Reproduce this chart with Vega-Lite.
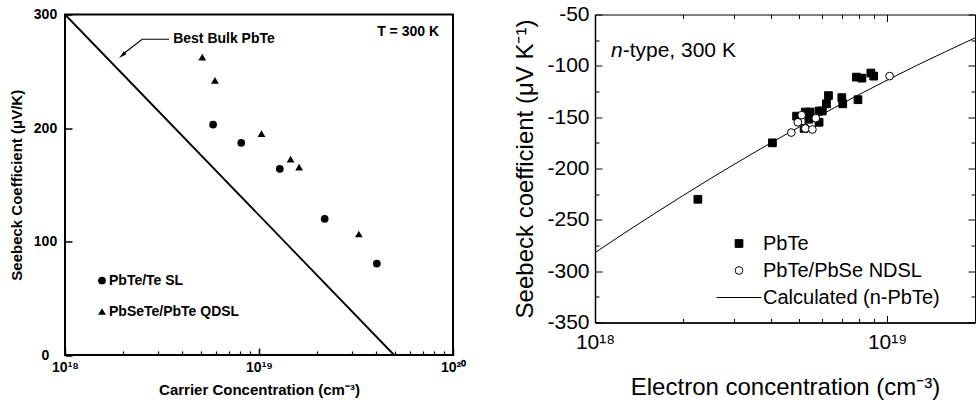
{
  "$schema": "https://vega.github.io/schema/vega-lite/v6.json",
  "padding": {"left": 8, "top": 2.5, "right": 0, "bottom": 0},
  "spacing": 142,
  "bounds": "flush",
  "resolve": {"scale": {"shape": "independent", "fill": "independent", "stroke": "independent", "color": "independent"}, "legend": {"shape": "independent", "fill": "independent", "stroke": "independent"}},
  "config": {
    "font": "Liberation Sans",
    "axis": {"grid": false, "domain": false, "tickColor": "black", "labelColor": "black", "titleColor": "black", "labelFlush": false, "labelOverlap": false},
    "legend": {"labelColor": "black", "labelLimit": 400}
  },
  "datasets": {
    "bulk": [{"n": 1e18, "S": 300}, {"n": 4.97e19, "S": 0}],
    "left_pts": [
      {"n": 5.8e18, "S": 203, "series": "PbTe/Te SL"},
      {"n": 8.1e18, "S": 187, "series": "PbTe/Te SL"},
      {"n": 1.28e19, "S": 164, "series": "PbTe/Te SL"},
      {"n": 2.18e19, "S": 120, "series": "PbTe/Te SL"},
      {"n": 4.05e19, "S": 80.6, "series": "PbTe/Te SL"},
      {"n": 5.1e18, "S": 262.5, "series": "PbSeTe/PbTe QDSL"},
      {"n": 5.93e18, "S": 242, "series": "PbSeTe/PbTe QDSL"},
      {"n": 1.03e19, "S": 195, "series": "PbSeTe/PbTe QDSL"},
      {"n": 1.455e19, "S": 172.5, "series": "PbSeTe/PbTe QDSL"},
      {"n": 1.61e19, "S": 165.5, "series": "PbSeTe/PbTe QDSL"},
      {"n": 3.27e19, "S": 106.6, "series": "PbSeTe/PbTe QDSL"}
    ],
    "leader": [{"n": 3.44e18, "S": 278.2, "o": 1}, {"n": 2.5e18, "S": 278.2, "o": 2}, {"n": 2.0e18, "S": 265.5, "o": 3}],
    "arrow": [{"n": 1.97e18, "S": 264}],
    "left_t1": [{"n": 3.61e18, "S": 278.5, "label": "Best Bulk PbTe"}],
    "left_t2": [{"n": 8.47e19, "S": 284.6, "label": "T = 300 K"}],
    "calc": [
      {"n": 1e18, "S": -282},
      {"n": 1.2589e18, "S": -263.0},
      {"n": 1.5849e18, "S": -244.6},
      {"n": 1.9953e18, "S": -226.6},
      {"n": 2.5119e18, "S": -209.0},
      {"n": 3.1623e18, "S": -192.0},
      {"n": 3.9811e18, "S": -175.4},
      {"n": 5.0119e18, "S": -159.4},
      {"n": 6.3096e18, "S": -143.8},
      {"n": 7.9433e18, "S": -128.6},
      {"n": 1e19, "S": -114.0},
      {"n": 1.2589e19, "S": -99.8},
      {"n": 1.5849e19, "S": -86.2},
      {"n": 2e19, "S": -72.8}
    ],
    "right_pts": [
      {"n": 2.25e18, "S": -230, "series": "PbTe"},
      {"n": 4.05e18, "S": -175, "series": "PbTe"},
      {"n": 4.9e18, "S": -149, "series": "PbTe"},
      {"n": 5.25e18, "S": -145, "series": "PbTe"},
      {"n": 5.45e18, "S": -145, "series": "PbTe"},
      {"n": 5.4e18, "S": -152, "series": "PbTe"},
      {"n": 5.2e18, "S": -161, "series": "PbTe"},
      {"n": 5.85e18, "S": -155, "series": "PbTe"},
      {"n": 5.85e18, "S": -144, "series": "PbTe"},
      {"n": 6.0e18, "S": -144, "series": "PbTe"},
      {"n": 6.2e18, "S": -137, "series": "PbTe"},
      {"n": 6.3e18, "S": -129, "series": "PbTe"},
      {"n": 7.0e18, "S": -131, "series": "PbTe"},
      {"n": 7.05e18, "S": -137, "series": "PbTe"},
      {"n": 7.95e18, "S": -133, "series": "PbTe"},
      {"n": 7.85e18, "S": -111, "series": "PbTe"},
      {"n": 8.2e18, "S": -112, "series": "PbTe"},
      {"n": 8.8e18, "S": -107, "series": "PbTe"},
      {"n": 9.0e18, "S": -110, "series": "PbTe"},
      {"n": 4.7e18, "S": -165, "series": "PbTe/PbSe NDSL"},
      {"n": 4.95e18, "S": -155, "series": "PbTe/PbSe NDSL"},
      {"n": 5.1e18, "S": -148, "series": "PbTe/PbSe NDSL"},
      {"n": 5.25e18, "S": -161, "series": "PbTe/PbSe NDSL"},
      {"n": 5.55e18, "S": -162, "series": "PbTe/PbSe NDSL"},
      {"n": 5.7e18, "S": -151, "series": "PbTe/PbSe NDSL"},
      {"n": 1.02e19, "S": -110, "series": "PbTe/PbSe NDSL"}
    ],
    "ntype": [{"n": 1.134e18, "S": -85.3}]
  },
  "hconcat": [
    {
      "width": 388,
      "height": 340.5,
      "view": {"stroke": "black", "strokeWidth": 2},
      "resolve": {"axis": {"x": "independent", "y": "independent"}},
      "layer": [
        {
          "data": {"name": "bulk"},
          "mark": {"type": "line", "color": "black", "strokeWidth": 1.8},
          "encoding": {
            "x": {"field": "n", "type": "quantitative", "scale": {"type": "log", "domain": [1e18, 1e20], "nice": false},
              "axis": {"orient": "bottom", "values": [1e18, 1e19, 1e20], "labelExpr": "datum.value < 5e18 ? '10¹⁸' : (datum.value < 5e19 ? '10¹⁹' : '10²⁰')", "tickSize": -7, "tickWidth": 1.5, "labelPadding": 12, "labelFontSize": 14, "labelFontWeight": "bold", "title": "Carrier Concentration (cm⁻³)", "titleFontSize": 15, "titleFontWeight": "bold", "titlePadding": 8}},
            "y": {"field": "S", "type": "quantitative", "scale": {"domain": [0, 300], "nice": false},
              "axis": {"orient": "left", "values": [0, 100, 200, 300], "tickSize": -7, "tickWidth": 1.5, "labelAlign": "center", "labelPadding": 27, "labelFontSize": 14, "labelFontWeight": "bold", "title": "Seebeck Coefficient (μV/K)", "titleFontSize": 15, "titleFontWeight": "bold", "titlePadding": 9}}
          }
        },
        {
          "data": {"name": "left_pts"},
          "mark": {"type": "point", "filled": true, "color": "black", "opacity": 1, "size": 60},
          "encoding": {
            "x": {"field": "n", "type": "quantitative", "scale": {"type": "log", "domain": [1e18, 1e20], "nice": false},
              "axis": {"orient": "bottom", "values": [2e18, 3e18, 4e18, 5e18, 6e18, 7e18, 8e18, 9e18, 2e19, 3e19, 4e19, 5e19, 6e19, 7e19, 8e19, 9e19], "tickSize": -4, "tickWidth": 1.2, "labels": false, "title": null}},
            "y": {"field": "S", "type": "quantitative", "scale": {"domain": [0, 300], "nice": false}, "axis": null},
            "shape": {"field": "series", "type": "nominal", "scale": {"domain": ["PbTe/Te SL", "PbSeTe/PbTe QDSL"], "range": ["circle", "triangle-up"]},
              "legend": {"orient": "none", "legendX": 30, "legendY": 259, "title": null, "padding": 0, "labelFontSize": 14, "labelFontWeight": "bold", "symbolSize": 60, "rowPadding": 17, "labelOffset": 0, "symbolFillColor": "black", "symbolStrokeWidth": 0}}
          }
        },
        {
          "data": {"name": "leader"},
          "mark": {"type": "line", "color": "black", "strokeWidth": 1.2},
          "encoding": {
            "x": {"field": "n", "type": "quantitative", "scale": {"type": "log", "domain": [1e18, 1e20], "nice": false}, "axis": null},
            "y": {"field": "S", "type": "quantitative", "scale": {"domain": [0, 300], "nice": false}, "axis": null},
            "order": {"field": "o"}
          }
        },
        {
          "data": {"name": "arrow"},
          "mark": {"type": "point", "shape": "M0,-1L0.5,1L-0.5,1Z", "filled": true, "color": "black", "opacity": 1, "size": 64, "angle": 230},
          "encoding": {
            "x": {"field": "n", "type": "quantitative", "scale": {"type": "log", "domain": [1e18, 1e20], "nice": false}, "axis": null},
            "y": {"field": "S", "type": "quantitative", "scale": {"domain": [0, 300], "nice": false}, "axis": null}
          }
        },
        {
          "data": {"name": "left_t1"},
          "mark": {"type": "text", "align": "left", "baseline": "middle", "fontSize": 14, "fontWeight": "bold", "color": "black"},
          "encoding": {
            "x": {"field": "n", "type": "quantitative", "scale": {"type": "log", "domain": [1e18, 1e20], "nice": false}, "axis": null},
            "y": {"field": "S", "type": "quantitative", "scale": {"domain": [0, 300], "nice": false}, "axis": null},
            "text": {"field": "label"}
          }
        },
        {
          "data": {"name": "left_t2"},
          "mark": {"type": "text", "align": "right", "baseline": "middle", "fontSize": 14, "fontWeight": "bold", "color": "black"},
          "encoding": {
            "x": {"field": "n", "type": "quantitative", "scale": {"type": "log", "domain": [1e18, 1e20], "nice": false}, "axis": null},
            "y": {"field": "S", "type": "quantitative", "scale": {"domain": [0, 300], "nice": false}, "axis": null},
            "text": {"field": "label"}
          }
        }
      ]
    },
    {
      "width": 380,
      "height": 308,
      "view": {"stroke": "black", "strokeWidth": 1},
      "resolve": {"axis": {"x": "independent", "y": "independent"}},
      "layer": [
        {
          "data": {"name": "calc"},
          "mark": {"type": "line", "color": "black", "strokeWidth": 1},
          "encoding": {
            "x": {"field": "n", "type": "quantitative", "scale": {"type": "log", "domain": [1e18, 2e19], "nice": false},
              "axis": {"orient": "bottom", "values": [1e18, 1e19], "labelExpr": "datum.value < 5e18 ? '10¹⁸' : '10¹⁹'", "domain": true, "domainWidth": 1.5, "domainColor": "black", "tickSize": -7, "tickWidth": 1, "labelPadding": 16, "labelFontSize": 21, "title": "Electron concentration (cm⁻³)", "titleFontSize": 24, "titleFontWeight": "normal", "titlePadding": 23}},
            "y": {"field": "S", "type": "quantitative", "scale": {"domain": [-350, -50], "nice": false},
              "axis": {"orient": "left", "values": [-350, -300, -250, -200, -150, -100, -50], "labelExpr": "'' + datum.value", "domain": true, "domainWidth": 1.5, "domainColor": "black", "tickSize": -7, "tickWidth": 1, "labelPadding": 13, "labelFontSize": 21, "title": "Seebeck coefficient (μV K⁻¹)", "titleFontSize": 24, "titleFontWeight": "normal", "titlePadding": 9}}
          }
        },
        {
          "data": {"name": "right_pts"},
          "mark": {"type": "point", "strokeWidth": 1, "opacity": 1, "size": 60},
          "encoding": {
            "x": {"field": "n", "type": "quantitative", "scale": {"type": "log", "domain": [1e18, 2e19], "nice": false},
              "axis": {"orient": "bottom", "values": [2e18, 3e18, 4e18, 5e18, 6e18, 7e18, 8e18, 9e18], "tickSize": -4, "tickWidth": 1, "labels": false, "title": null}},
            "y": {"field": "S", "type": "quantitative", "scale": {"domain": [-350, -50], "nice": false},
              "axis": {"orient": "left", "values": [-325, -275, -225, -175, -125, -75], "tickSize": -4, "tickWidth": 1, "labels": false, "title": null}},
            "shape": {"field": "series", "type": "nominal", "scale": {"domain": ["PbTe", "PbTe/PbSe NDSL", "Calculated (n-PbTe)"], "range": ["square", "circle", "M-5.8,0H5.8"]},
              "legend": {"orient": "none", "legendX": 134, "legendY": 219, "title": null, "padding": 0, "labelFontSize": 20, "symbolSize": 60, "rowPadding": 7, "labelOffset": 14, "symbolStrokeWidth": 1}},
            "fill": {"field": "series", "type": "nominal", "scale": {"domain": ["PbTe", "PbTe/PbSe NDSL", "Calculated (n-PbTe)"], "range": ["black", "white", "transparent"]},
              "legend": {"orient": "none", "legendX": 134, "legendY": 219, "title": null, "padding": 0, "labelFontSize": 20, "symbolSize": 60, "rowPadding": 7, "labelOffset": 14, "symbolStrokeWidth": 1}},
            "stroke": {"field": "series", "type": "nominal", "scale": {"domain": ["PbTe", "PbTe/PbSe NDSL", "Calculated (n-PbTe)"], "range": ["black", "black", "black"]},
              "legend": {"orient": "none", "legendX": 134, "legendY": 219, "title": null, "padding": 0, "labelFontSize": 20, "symbolSize": 60, "rowPadding": 7, "labelOffset": 14, "symbolStrokeWidth": 1}}
          }
        },
        {
          "data": {"name": "ntype"},
          "mark": {"type": "text", "align": "left", "baseline": "middle", "fontSize": 21, "fontStyle": "italic", "color": "black"},
          "encoding": {
            "x": {"field": "n", "type": "quantitative", "scale": {"type": "log", "domain": [1e18, 2e19], "nice": false},
              "axis": {"orient": "top", "values": [1e19], "tickSize": -7, "tickWidth": 1, "labels": false, "title": null}},
            "y": {"field": "S", "type": "quantitative", "scale": {"domain": [-350, -50], "nice": false},
              "axis": {"orient": "right", "values": [-350, -300, -250, -200, -150, -100, -50], "tickSize": -7, "tickWidth": 1, "labels": false, "title": null}},
            "text": {"value": "n"}
          }
        },
        {
          "data": {"name": "ntype"},
          "mark": {"type": "text", "align": "left", "baseline": "middle", "fontSize": 21, "dx": 11.7, "color": "black"},
          "encoding": {
            "x": {"field": "n", "type": "quantitative", "scale": {"type": "log", "domain": [1e18, 2e19], "nice": false},
              "axis": {"orient": "top", "values": [2e18, 3e18, 4e18, 5e18, 6e18, 7e18, 8e18, 9e18], "tickSize": -4, "tickWidth": 1, "labels": false, "title": null}},
            "y": {"field": "S", "type": "quantitative", "scale": {"domain": [-350, -50], "nice": false},
              "axis": {"orient": "right", "values": [-325, -275, -225, -175, -125, -75], "tickSize": -4, "tickWidth": 1, "labels": false, "title": null}},
            "text": {"value": "-type, 300 K"}
          }
        }
      ]
    }
  ]
}
